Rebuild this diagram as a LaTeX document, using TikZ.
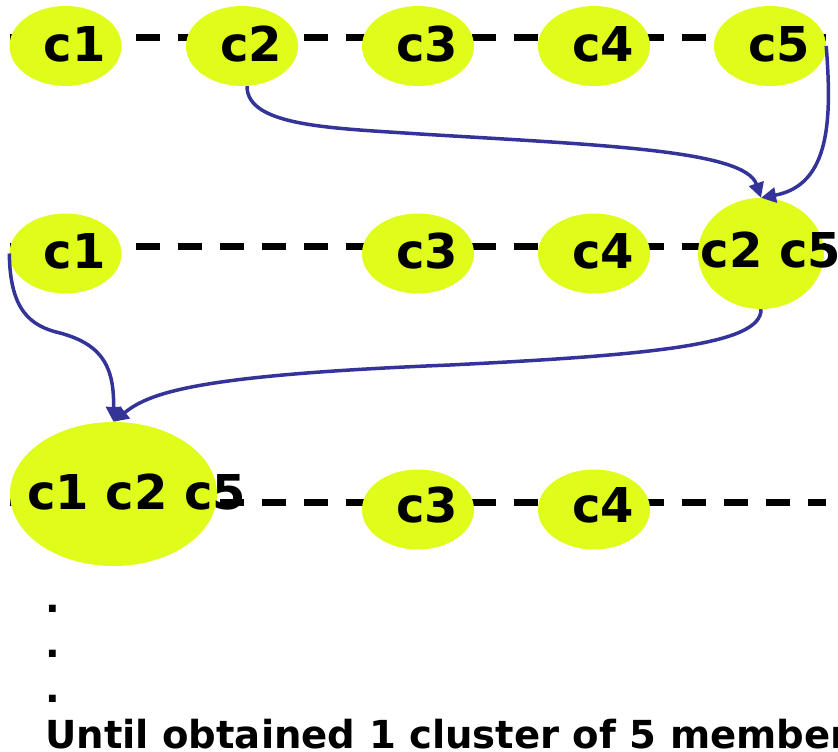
\documentclass[tikz,border=0pt]{standalone}
\usepackage{fontspec}
\setmainfont{DejaVu Sans}
\usetikzlibrary{shapes.geometric, arrows.meta}

\definecolor{clyellow}{RGB}{224,252,26}
\definecolor{mergeblue}{RGB}{51,51,153}

\tikzset{
  clus/.style={ellipse, fill=clyellow, inner sep=0pt, minimum width=112pt, minimum height=80pt},
  lbl/.style={font=\fontsize{48}{48}\selectfont\bfseries, inner sep=0pt, xshift=#1, yshift=2pt},
  lbl/.default=9pt,
  row/.style={line width=7pt, dash pattern=on 24pt off 18pt},
  merge/.style={draw=mergeblue, line width=3.5pt, -{Triangle[length=15pt,width=15pt]}},
  note/.style={font=\fontsize{38.6}{38.6}\selectfont\bfseries, inner sep=0pt, anchor=base west}
}

\begin{document}
\begin{tikzpicture}[x=1pt, y=-1pt]
\useasboundingbox (0,0) rectangle (838,752);

% the three passes, one dashed row each
\draw[row] (10,37.5) -- (826,37.5);
\draw[row] (10,246) -- (826,246);
\draw[row] (10,502) -- (826,502);

% first pass: every point is its own cluster
\node[clus, label={[lbl]center:c1}] (t1) at (65.5,46) {};
\node[clus, label={[lbl]center:c2}] (t2) at (242,46) {};
\node[clus, label={[lbl]center:c3}] (t3) at (418,46) {};
\node[clus, label={[lbl]center:c4}] (t4) at (594,46) {};
\node[clus, label={[lbl]center:c5}] (t5) at (770,46) {};

% second pass: c2 and c5 joined
\node[clus, label={[lbl]center:c1}] (m1) at (65.5,253.5) {};
\node[clus, label={[lbl]center:c3}] (m3) at (418,253.5) {};
\node[clus, label={[lbl]center:c4}] (m4) at (594,253.5) {};
\node[clus, minimum width=126pt, minimum height=111pt,
      label={[lbl=10pt, yshift=1.5pt]center:c2 c5}] (m25) at (761,253.5) {};

% third pass: c1 goes in as well
\node[clus, minimum width=207pt, minimum height=144pt,
      label={[lbl=23pt]center:c1 c2 c5}] (b125) at (113.5,494) {};
\node[clus, label={[lbl, yshift=2pt]center:c3}] (b3) at (418,509.5) {};
\node[clus, label={[lbl, yshift=2pt]center:c4}] (b4) at (594,509.5) {};

% merges
\draw[merge] ([xshift=5pt]t2.south) .. controls +(0,40) and (330,128) .. (420,134)
  .. controls (600,145) and (745,150) .. (m25.north);
\draw[merge] (t5.east) .. controls (832,120) and (830,185) .. (m25.north);
\draw[merge] (m1.west) .. controls (10,310) and (30,326) .. (60,333)
  .. controls (105,345) and (114,370) .. (b125.north);
\draw[merge] (m25.south) .. controls (762,345) and (650,355) .. (450,365)
  .. controls (200,375) and (150,392) .. (b125.north);

\node[note] (d1) at (45,612) {.};
\node[note] (d2) at (45,657) {.};
\node[note] (d3) at (45,702) {.};
\node[note] (goal) at (45,748) {Until obtained 1 cluster of 5 members};
\end{tikzpicture}
\end{document}
